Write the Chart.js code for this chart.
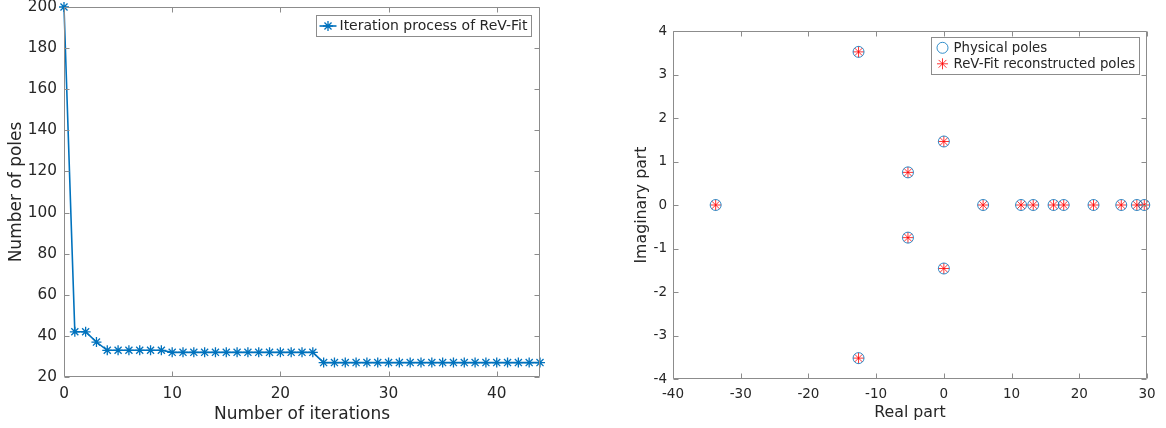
<!DOCTYPE html>
<html lang="en">
<head>
  <meta charset="UTF-8" />
  <title>ReV-Fit iterations and pole map</title>
  <script src="https://cdn.jsdelivr.net/npm/chart.js"></script>
  <style>
    html, body { margin: 0; padding: 0; background: #fff; }
    #wrap { position: relative; width: 1166px; height: 428px; }
    #wrap canvas { position: absolute; top: 0; }
    #iterChart { left: 0; }
    #poleChart { left: 583px; }
  </style>
</head>
<body>
  <div id="wrap">
    <canvas id="iterChart" width="583" height="428"></canvas>
    <canvas id="poleChart" width="583" height="428"></canvas>
  </div>

  <script>
    // Left panel: pole count after each ReV-Fit iteration
    const iterations = [
      0, 1, 2, 3, 4, 5, 6, 7, 8, 9, 10, 11, 12, 13, 14, 15, 16, 17, 18, 19, 20, 21, 22,
      23, 24, 25, 26, 27, 28, 29, 30, 31, 32, 33, 34, 35, 36, 37, 38, 39, 40, 41, 42, 43, 44
    ];
    const poleCount = [
      200, 42, 42, 37, 33, 33, 33, 33, 33, 33, 32, 32, 32, 32, 32, 32, 32, 32, 32, 32, 32, 32, 32,
      32, 27, 27, 27, 27, 27, 27, 27, 27, 27, 27, 27, 27, 27, 27, 27, 27, 27, 27, 27, 27, 27
    ];

    // Right panel: physical poles vs. reconstructed poles in the complex plane
    const physicalRe = [-33.7, -12.6, -12.6, -5.3, -5.3, 0, 0, 5.8, 11.4, 13.2, 16.2, 17.7, 22.1, 26.2, 28.5, 29.6];
    const physicalIm = [0, 3.52, -3.52, 0.75, -0.75, 1.46, -1.46, 0, 0, 0, 0, 0, 0, 0, 0, 0];
    const fittedRe = [-33.7, -12.6, -12.6, -5.3, -5.3, 0, 0, 5.8, 11.4, 13.2, 16.2, 17.7, 22.1, 26.2, 28.5, 29.6];
    const fittedIm = [0, 3.52, -3.52, 0.75, -0.75, 1.46, -1.46, 0, 0, 0, 0, 0, 0, 0, 0, 0];

    const iterTicksX = [0, 44, 10];    // min, max, step
    const iterTicksY = [20, 200, 20];
    const poleTicksX = [-40, 30, 10];
    const poleTicksY = [-4, 4, 1];

    const ink = '#262626';
    const frameColor = '#8c8c8c';
    const matBlue = '#0072BD';

    Chart.defaults.font.family = '"DejaVu Sans", sans-serif';
    Chart.defaults.color = ink;

    const toPoints = (xs, ys) => xs.map((x, i) => ({ x: x, y: ys[i] }));

    function zeroPad(s) {
      s.paddingTop = 0; s.paddingBottom = 0; s.paddingLeft = 0; s.paddingRight = 0;
    }

    // box around the axes with inward tick marks on all four sides
    const matFrame = {
      id: 'matFrame',
      afterDatasetsDraw(chart) {
        const { ctx, chartArea: a, scales: { x, y } } = chart;
        const L = Math.round(a.left) + 0.5, R = Math.round(a.right) - 0.5;
        const T = Math.round(a.top) + 0.5, B = Math.round(a.bottom) - 0.5;
        ctx.save();
        ctx.strokeStyle = frameColor;
        ctx.lineWidth = 1;
        ctx.beginPath();
        ctx.rect(L, T, R - L, B - T);
        x.ticks.forEach(t => {
          const px = Math.round(x.getPixelForValue(t.value)) + 0.5;
          ctx.moveTo(px, B); ctx.lineTo(px, B - 5);
          ctx.moveTo(px, T); ctx.lineTo(px, T + 5);
        });
        y.ticks.forEach(t => {
          const py = Math.round(y.getPixelForValue(t.value)) + 0.5;
          ctx.moveTo(L, py); ctx.lineTo(L + 5, py);
          ctx.moveTo(R, py); ctx.lineTo(R - 5, py);
        });
        ctx.stroke();
        ctx.restore();
      }
    };

    function drawMarker(ctx, style, cx, cy, r) {
      ctx.beginPath();
      if (style === 'circle') {
        ctx.arc(cx, cy, r, 0, Math.PI * 2);
      } else {
        const d = r * Math.SQRT1_2;
        ctx.moveTo(cx - r, cy); ctx.lineTo(cx + r, cy);
        ctx.moveTo(cx, cy - r); ctx.lineTo(cx, cy + r);
        ctx.moveTo(cx - d, cy - d); ctx.lineTo(cx + d, cy + d);
        ctx.moveTo(cx - d, cy + d); ctx.lineTo(cx + d, cy - d);
      }
      ctx.stroke();
    }

    // boxed legend sitting in the upper right corner of the plot area
    const boxLegend = {
      id: 'boxLegend',
      afterDraw(chart, args, o) {
        const { ctx, chartArea: a } = chart;
        const sets = chart.data.datasets;
        ctx.save();
        ctx.font = o.fontSize + 'px "DejaVu Sans"';
        const textW = Math.max(...sets.map(d => ctx.measureText(d.label).width));
        const w = Math.round(o.textStart + textW + 4);
        const h = Math.round(o.firstRow * 2 + (sets.length - 1) * o.rowHeight);
        const left = Math.round(a.right - o.right - w) + 0.5;
        const top = Math.round(a.top + o.top) + 0.5;
        ctx.fillStyle = '#fff';
        ctx.fillRect(left, top, w, h);
        ctx.strokeStyle = frameColor;
        ctx.lineWidth = 1;
        ctx.strokeRect(left, top, w, h);
        sets.forEach((d, i) => {
          const cy = top + o.firstRow + i * o.rowHeight;
          ctx.strokeStyle = d.pointBorderColor;
          if (d.showLine) {
            ctx.lineWidth = d.borderWidth;
            ctx.beginPath();
            ctx.moveTo(left + 3, cy); ctx.lineTo(left + o.markerX * 2 - 3, cy);
            ctx.stroke();
          }
          ctx.lineWidth = d.pointBorderWidth;
          drawMarker(ctx, d.pointStyle, left + o.markerX, cy, d.pointRadius);
          ctx.fillStyle = ink;
          ctx.textBaseline = 'middle';
          ctx.fillText(d.label, left + o.textStart, cy + 0.5);
        });
        ctx.restore();
      }
    };

    function axis(range, title, opts) {
      return {
        type: 'linear',
        min: range[0],
        max: range[1],
        grid: { display: false, drawTicks: false },
        border: { display: false },
        ticks: {
          stepSize: range[2],
          includeBounds: false,
          autoSkip: false,
          maxRotation: 0,
          padding: opts.tickPad,
          color: ink,
          font: { size: opts.tickSize }
        },
        title: {
          display: true,
          text: title,
          color: ink,
          font: { size: opts.titleSize },
          padding: opts.titlePad
        },
        afterFit(s) {
          if (s.isHorizontal()) s.height = opts.size; else s.width = opts.size;
          zeroPad(s);
        }
      };
    }

    new Chart(document.getElementById('iterChart'), {
      type: 'scatter',
      data: {
        datasets: [{
          label: 'Iteration process of ReV-Fit',
          data: toPoints(iterations, poleCount),
          showLine: true,
          borderColor: matBlue,
          borderWidth: 1.6,
          pointStyle: 'star',
          pointRadius: 5,
          pointBorderColor: matBlue,
          pointBorderWidth: 1.3,
          pointBackgroundColor: matBlue,
          clip: false
        }]
      },
      options: {
        responsive: false,
        animation: false,
        devicePixelRatio: 1,
        layout: { padding: { top: 7, right: 43, bottom: 0, left: 0 } },
        plugins: {
          legend: { display: false },
          tooltip: { enabled: false },
          boxLegend: { fontSize: 14, right: 9, top: 8.4, markerX: 11.5, textStart: 23, firstRow: 10.5, rowHeight: 16 }
        },
        scales: {
          x: axis(iterTicksX, 'Number of iterations', {
            size: 51, tickPad: 8, tickSize: 15.3, titleSize: 17, titlePad: { top: 0, bottom: 3 }
          }),
          y: axis(iterTicksY, 'Number of poles', {
            size: 64, tickPad: 7, tickSize: 15.3, titleSize: 17, titlePad: { top: 6, bottom: 0 }
          })
        }
      },
      plugins: [matFrame, boxLegend]
    });

    new Chart(document.getElementById('poleChart'), {
      type: 'scatter',
      data: {
        datasets: [{
          label: 'Physical poles',
          data: toPoints(physicalRe, physicalIm),
          pointStyle: 'circle',
          pointRadius: 5.5,
          pointBorderColor: matBlue,
          pointBorderWidth: 0.8,
          pointBackgroundColor: 'rgba(0,0,0,0)',
          clip: false
        }, {
          label: 'ReV-Fit reconstructed poles',
          data: toPoints(fittedRe, fittedIm),
          pointStyle: 'star',
          pointRadius: 5.5,
          pointBorderColor: '#ff0000',
          pointBorderWidth: 0.8,
          pointBackgroundColor: '#ff0000',
          clip: false
        }]
      },
      options: {
        responsive: false,
        animation: false,
        devicePixelRatio: 1,
        layout: { padding: { top: 31, right: 19, bottom: 0, left: 0 } },
        plugins: {
          legend: { display: false },
          tooltip: { enabled: false },
          boxLegend: { fontSize: 13.3, right: 8, top: 6, markerX: 11, textStart: 22, firstRow: 10.3, rowHeight: 16 }
        },
        scales: {
          x: axis(poleTicksX, 'Real part', {
            size: 49, tickPad: 7, tickSize: 13.5, titleSize: 15.8, titlePad: { top: 0, bottom: 6 }
          }),
          y: axis(poleTicksY, 'Imaginary part', {
            size: 90, tickPad: 6, tickSize: 13.5, titleSize: 15.8, titlePad: { top: 49, bottom: 0 }
          })
        }
      },
      plugins: [matFrame, boxLegend]
    });
  </script>
</body>
</html>
